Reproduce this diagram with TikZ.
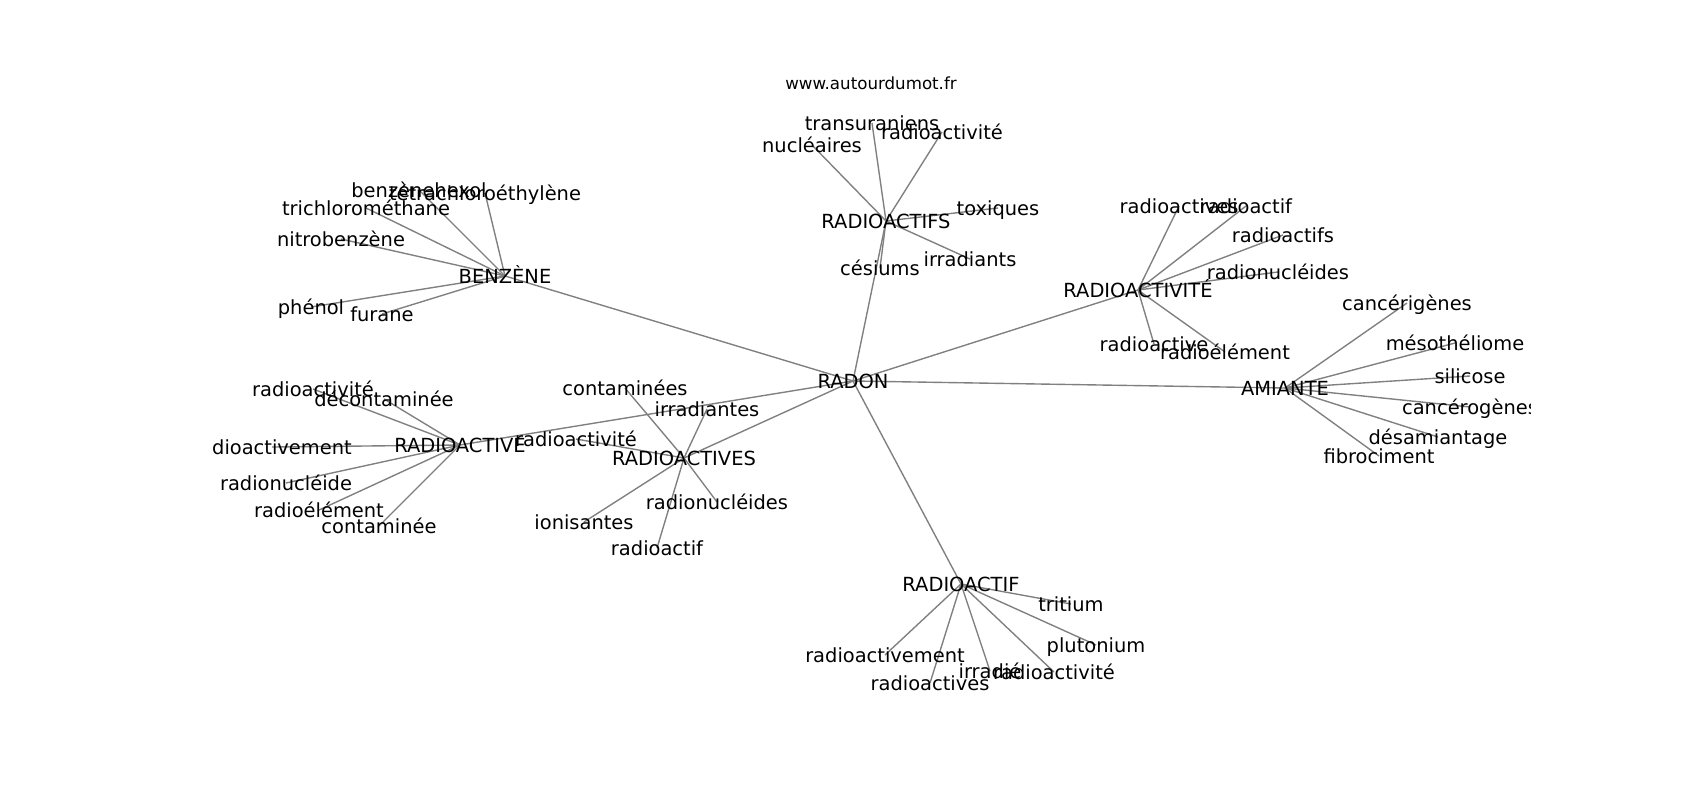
\documentclass[tikz,border=0pt]{standalone}
\usepackage{fontspec}
\setmainfont{DejaVu Sans}
\pgfdeclarelayer{bg}
\pgfsetlayers{bg,main}
\tikzset{
  lbl/.style={font=\fontsize{14}{16}\selectfont, inner sep=0pt, text height=10.2pt, text depth=0pt, text=black},
  ttl/.style={font=\fontsize{12}{14}\selectfont, inner sep=0pt, text height=8.7pt, text depth=0pt, text=black},
  edge/.style={draw=black!50, line width=1pt}
}
\begin{document}
\begin{tikzpicture}[x=0.72pt,y=-0.72pt]
\useasboundingbox (0,0) rectangle (1700,800);
\node[ttl] (title) at (871,83) {www.autourdumot.fr};
\begin{scope}
\clip (212.5,96) rectangle (1530,712);
% hubs
\node[lbl] (radon) at (853,381) {RADON};
\node[lbl] (benz) at (505,276) {BENZÈNE};
\node[lbl] (rve) at (460,445) {RADIOACTIVE};
\node[lbl] (rvs) at (684,458) {RADIOACTIVES};
\node[lbl] (rfs) at (886,221) {RADIOACTIFS};
\node[lbl] (rte) at (1138,290) {RADIOACTIVITÉ};
\node[lbl] (ami) at (1285,388) {AMIANTE};
\node[lbl] (rf) at (961,584) {RADIOACTIF};
% benzene
\node[lbl] (bz1) at (419,190) {benzènehexol};
\node[lbl] (bz2) at (485,193) {tétrachloroéthylène};
\node[lbl] (bz3) at (366,208) {trichlorométhane};
\node[lbl] (bz4) at (341,239) {nitrobenzène};
\node[lbl] (bz5) at (311,307) {phénol};
\node[lbl] (bz6) at (382,314) {furane};
% radioactive
\node[lbl] (ve1) at (313,389) {radioactivité};
\node[lbl] (ve2) at (384,399) {décontaminée};
\node[lbl] (ve3) at (272,447) {radioactivement};
\node[lbl] (ve4) at (286,483) {radionucléide};
\node[lbl] (ve5) at (319,510) {radioélément};
\node[lbl] (ve6) at (379,526) {contaminée};
% radioactives
\node[lbl] (vs1) at (625,388) {contaminées};
\node[lbl] (vs2) at (707,409) {irradiantes};
\node[lbl] (vs3) at (576,439) {radioactivité};
\node[lbl] (vs4) at (717,502) {radionucléides};
\node[lbl] (vs5) at (584,522) {ionisantes};
\node[lbl] (vs6) at (657,548) {radioactif};
% radioactifs
\node[lbl] (fs1) at (872,123) {transuraniens};
\node[lbl] (fs2) at (942,132) {radioactivité};
\node[lbl] (fs3) at (812,145) {nucléaires};
\node[lbl] (fs4) at (998,208) {toxiques};
\node[lbl] (fs5) at (970,259) {irradiants};
\node[lbl] (fs6) at (880,268) {césiums};
% radioactivite
\node[lbl] (te1) at (1179,206) {radioactives};
\node[lbl] (te2) at (1246,206) {radioactif};
\node[lbl] (te3) at (1283,235) {radioactifs};
\node[lbl] (te4) at (1278,272) {radionucléides};
\node[lbl] (te5) at (1154,344) {radioactive};
\node[lbl] (te6) at (1225,352) {radioélément};
% amiante
\node[lbl] (am1) at (1407,303) {cancérigènes};
\node[lbl] (am2) at (1455,343) {mésothéliome};
\node[lbl] (am3) at (1470,376) {silicose};
\node[lbl] (am4) at (1470,407) {cancérogènes};
\node[lbl] (am5) at (1438,437) {désamiantage};
\node[lbl] (am6) at (1379,456) {fibrociment};
% radioactif
\node[lbl] (f1) at (1071,604) {tritium};
\node[lbl] (f2) at (1096,645) {plutonium};
\node[lbl] (f3) at (885,655) {radioactivement};
\node[lbl] (f4) at (930,683) {radioactives};
\node[lbl] (f5) at (990,671) {irradié};
\node[lbl] (f6) at (1054,672) {radioactivité};
\end{scope}
\begin{pgfonlayer}{bg}
\foreach \h in {benz,rve,rvs,rfs,rte,ami,rf}
  \draw[edge] (radon.center) -- (\h.center);
\foreach \i in {1,...,6}{
  \draw[edge] (benz.center) -- (bz\i.center);
  \draw[edge] (rve.center) -- (ve\i.center);
  \draw[edge] (rvs.center) -- (vs\i.center);
  \draw[edge] (rfs.center) -- (fs\i.center);
  \draw[edge] (rte.center) -- (te\i.center);
  \draw[edge] (ami.center) -- (am\i.center);
  \draw[edge] (rf.center) -- (f\i.center);
}
\end{pgfonlayer}
\end{tikzpicture}
\end{document}
